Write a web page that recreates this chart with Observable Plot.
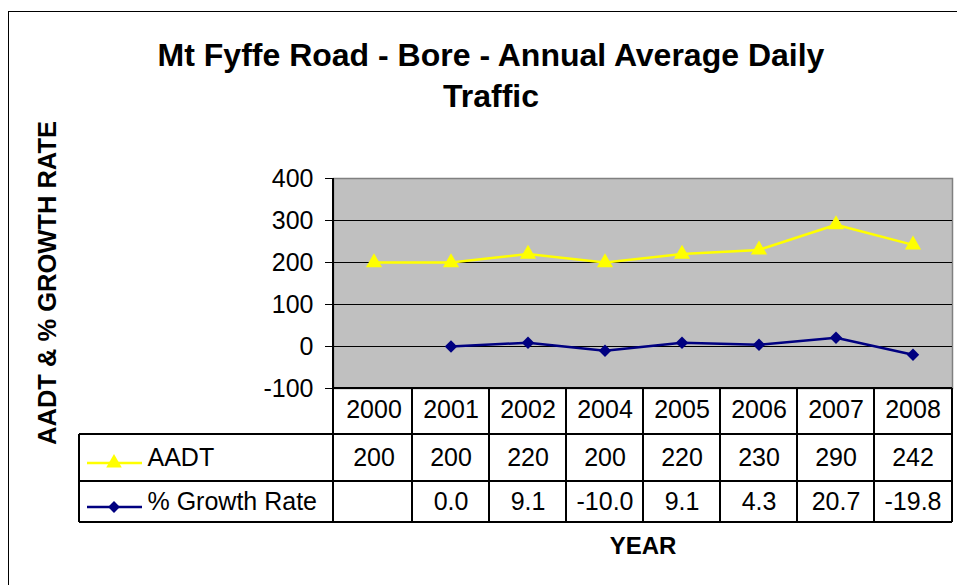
<!DOCTYPE html>
<html>
<head>
<meta charset="utf-8">
<script src="https://cdn.jsdelivr.net/npm/d3@7"></script>
<script src="https://cdn.jsdelivr.net/npm/@observablehq/plot@0.6"></script>
<style>
  html, body { margin: 0; padding: 0; background: #fff; }
  #page { position: relative; width: 957px; height: 585px; overflow: hidden; font-family: "Liberation Sans", Arial, sans-serif; }
  #frame { position: absolute; left: 8px; top: 11px; width: 2000px; height: 2000px; border-top: 1.5px solid #000; border-left: 1.5px solid #000; }
  #title { position: absolute; left: 8px; top: 35px; width: 966px; text-align: center; font-weight: bold; font-size: 32px; line-height: 41px; color: #000; }
  #chart { position: absolute; left: 0; top: 120px; }
</style>
</head>
<body>
<div id="page">
  <div id="frame"></div>
  <div id="title">Mt Fyffe Road - Bore - Annual Average Daily<br>Traffic</div>
  <div id="chart"></div>
</div>
<script>
const years = ["2000", "2001", "2002", "2004", "2005", "2006", "2007", "2008"];
const aadt = [200, 200, 220, 200, 220, 230, 290, 242];
const growth = [null, 0.0, 9.1, -10.0, 9.1, 4.3, 20.7, -19.8];
const yTicks = [-100, 0, 100, 200, 300, 400];
const seriesNames = ["AADT", "% Growth Rate"];
const yLabel = "AADT & % GROWTH RATE";
const xLabel = "YEAR";

const rows = years.map((year, i) => ({year, aadt: aadt[i], growth: growth[i]}));
const growthRows = rows.filter(d => d.growth != null);

const FONT = "'Liberation Sans', Arial, sans-serif";
const W = 957, H = 465;
// table row offsets below the plot frame
const ROW1 = 46, ROW2 = 93, ROW3 = 134;
const LEGEND_LEFT = 79;

function tableGrid(index, scales, values, dims) {
  const x = scales.x;
  const left = dims.marginLeft, right = dims.width - dims.marginRight;
  const top = dims.marginTop;
  const fb = dims.height - dims.marginBottom;
  const step = x(years[1]) - x(years[0]);
  const off = x(years[0]) - left > step / 4 ? -step / 2 : 0;
  const g = d3.create("svg:g");
  const lines = g.append("g").attr("stroke", "#000").attr("stroke-width", 1.2).attr("fill", "none").attr("shape-rendering", "crispEdges");
  const edges = years.slice(1).map(y => x(y) + off).concat([left, right]);
  edges.forEach(e => lines.append("line").attr("x1", e).attr("x2", e).attr("y1", fb).attr("y2", fb + ROW3));
  lines.append("line").attr("x1", LEGEND_LEFT).attr("x2", LEGEND_LEFT).attr("y1", fb + ROW1).attr("y2", fb + ROW3);
  [ROW1, ROW2, ROW3].forEach(r => lines.append("line").attr("x1", LEGEND_LEFT).attr("x2", right).attr("y1", fb + r).attr("y2", fb + r));
  // left axis line and bottom axis line
  lines.append("line").attr("x1", left).attr("x2", left).attr("y1", top).attr("y2", fb);
  lines.append("line").attr("x1", left).attr("x2", right).attr("y1", fb).attr("y2", fb);
  // legend keys
  const keys = [
    {y: fb + 75, color: "#ffff00", symbol: d3.symbolTriangle, size: 105},
    {y: fb + 119, color: "#000080", symbol: d3.symbolDiamond2, size: 90}
  ];
  keys.forEach(k => {
    g.append("line").attr("x1", 87).attr("x2", 142).attr("y1", k.y).attr("y2", k.y)
      .attr("stroke", k.color).attr("stroke-width", 2.5);
    g.append("path").attr("transform", `translate(114,${k.y})`)
      .attr("d", d3.symbol(k.symbol, k.size)()).attr("fill", k.color);
  });
  // y axis title
  g.append("text")
    .attr("transform", `translate(47,${(top + fb) / 2}) rotate(-90)`)
    .attr("text-anchor", "middle").attr("dy", "0.35em")
    .attr("font-size", 25.5).attr("font-weight", "bold").attr("fill", "#000")
    .text(yLabel);
  return g.node();
}

const plot = Plot.plot({
  width: W,
  height: H,
  marginLeft: 333,
  marginRight: 5,
  marginTop: 58,
  marginBottom: 197,
  style: {fontFamily: FONT, background: "transparent", overflow: "visible", color: "#000"},
  x: {type: "band", domain: years, padding: 0, axis: null},
  y: {type: "linear", domain: [-100, 400], axis: null},
  marks: [
    Plot.frame({fill: "#c0c0c0", stroke: "#808080", strokeWidth: 1.5}),
    Plot.ruleY(yTicks.slice(1, -1), {stroke: "#000", strokeWidth: 1.2}),
    Plot.axisY({ticks: yTicks, tickSize: 8, tickPadding: 12, fontSize: 25, tickFormat: d => String(d), label: null, stroke: "#000"}),
    tableGrid,
    Plot.line(rows, {x: "year", y: "aadt", stroke: "#ffff00", strokeWidth: 2.5}),
    Plot.dot(rows, {x: "year", y: "aadt", symbol: "triangle", fill: "#ffff00", r: 6}),
    Plot.line(growthRows, {x: "year", y: "growth", stroke: "#000080", strokeWidth: 2.5}),
    Plot.dot(growthRows, {x: "year", y: "growth", symbol: "diamond2", fill: "#000080", r: 5.6}),
    // table texts
    Plot.text(years, {x: d => d, text: d => d, frameAnchor: "bottom", dy: 29, fontSize: 25, fill: "#000"}),
    Plot.text(rows, {x: "year", text: d => String(d.aadt), frameAnchor: "bottom", dy: 77, fontSize: 25, fill: "#000"}),
    Plot.text(growthRows, {x: "year", text: d => d.growth.toFixed(1), frameAnchor: "bottom", dy: 121, fontSize: 25, fill: "#000"}),
    Plot.text([seriesNames[0]], {text: d => d, frameAnchor: "bottom-left", dx: -186, dy: 77, textAnchor: "start", fontSize: 25, fill: "#000"}),
    Plot.text([seriesNames[1]], {text: d => d, frameAnchor: "bottom-left", dx: -186, dy: 121, textAnchor: "start", fontSize: 25, fill: "#000"}),
    Plot.text([xLabel], {text: d => d, frameAnchor: "bottom", dy: 165, fontSize: 24, fontWeight: "bold", fill: "#000"})
  ]
});
document.getElementById("chart").appendChild(plot);
</script>
</body>
</html>
